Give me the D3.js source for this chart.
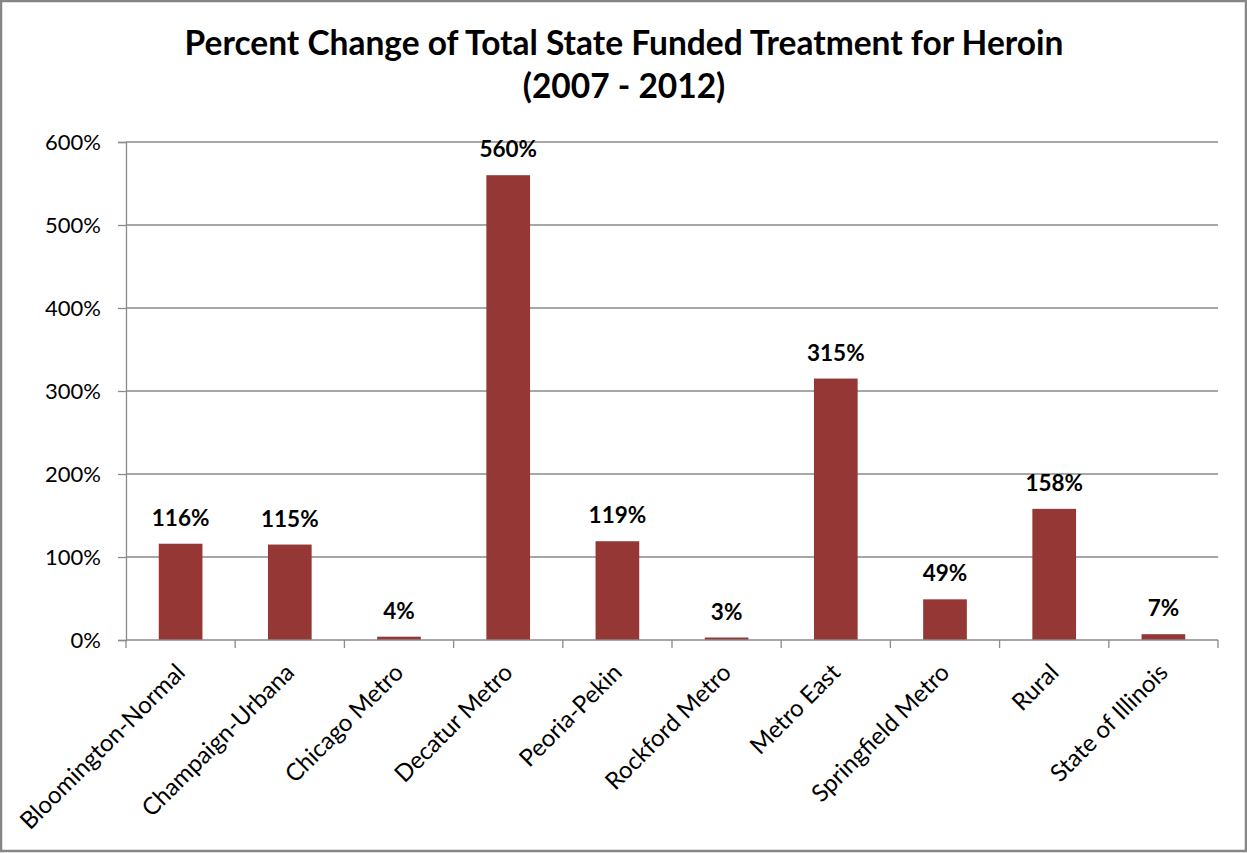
<!DOCTYPE html>
<html>
<head>
<meta charset="utf-8">
<script src="https://cdn.jsdelivr.net/npm/d3@7/dist/d3.min.js"></script>
<style>
  body { margin: 0; background: #fff; }
  svg { display: block; font-family: "Lato", "Open Sans", sans-serif; }
</style>
</head>
<body>
<div id="chart"></div>
<script>
// data
var regions = ["Bloomington-Normal", "Champaign-Urbana", "Chicago Metro", "Decatur Metro",
  "Peoria-Pekin", "Rockford Metro", "Metro East", "Springfield Metro", "Rural", "State of Illinois"];
var pctChange = [116, 115, 4, 560, 119, 3, 315, 49, 158, 7];
var yTicks = [0, 100, 200, 300, 400, 500, 600];
var titleLines = ["Percent Change of Total State Funded Treatment for Heroin", "(2007 - 2012)"];

var W = 1247, H = 853;
var margin = {top: 142, right: 29, bottom: 213, left: 126},
    width = W - margin.left - margin.right,
    height = H - margin.top - margin.bottom;

var svg = d3.select("#chart").append("svg")
    .attr("width", W)
    .attr("height", H);

// outer frame
svg.append("rect")
    .attr("x", 1).attr("y", 1)
    .attr("width", W - 2).attr("height", H - 3)
    .attr("fill", "#fff")
    .attr("stroke", "#868686")
    .attr("stroke-width", 2.5);

// two title lines, separate texts
svg.selectAll(".title")
    .data(titleLines)
  .enter().append("text")
    .attr("class", "title")
    .attr("text-anchor", "middle")
    .attr("x", 624)
    .attr("y", function(d, i) { return 55 + i * 43; })
    .style("font-size", "33.5px")
    .style("font-weight", "bold")
    .attr("fill", "#000")
    .text(function(d) { return d; });

var g = svg.append("g")
    .attr("transform", "translate(" + margin.left + "," + margin.top + ")");

var x = d3.scaleBand()
    .domain(regions)
    .range([0, width])
    .paddingInner(0.6)
    .paddingOuter(0.3);
var y = d3.scaleLinear()
    .domain([0, 600])
    .range([height, 0]);

// gridlines
g.selectAll(".grid")
    .data(yTicks.slice(1))
  .enter().append("line")
    .attr("class", "grid")
    .attr("x1", 0).attr("x2", width)
    .attr("y1", function(d) { return y(d); })
    .attr("y2", function(d) { return y(d); })
    .attr("stroke", "#8a8a8a")
    .attr("stroke-width", 1.3);

// y axis
var yAxis = g.append("g")
    .call(d3.axisLeft(y).tickValues(yTicks).tickSize(8).tickPadding(17)
      .tickFormat(function(d) { return d + "%"; }));
yAxis.select(".domain").attr("stroke", "#8a8a8a").attr("stroke-width", 1.3);
yAxis.selectAll(".tick line").attr("stroke", "#8a8a8a").attr("stroke-width", 1.3);
yAxis.selectAll(".tick text")
    .style("font-size", "22px")
    .style("font-family", "Lato, sans-serif")
    .attr("fill", "#000");

// bars
g.selectAll(".bar")
    .data(pctChange)
  .enter().append("rect")
    .attr("class", "bar")
    .attr("x", function(d, i) { return x(regions[i]); })
    .attr("width", x.bandwidth())
    .attr("y", function(d) { return y(d); })
    .attr("height", function(d) { return height - y(d); })
    .attr("fill", "#953735");

// x axis with ticks at band boundaries
var step = x.step();
var xAxis = g.append("g").attr("transform", "translate(0," + height + ")");
xAxis.append("line")
    .attr("x1", 0).attr("x2", width)
    .attr("stroke", "#8a8a8a").attr("stroke-width", 1.3);
xAxis.selectAll(".xtick")
    .data(d3.range(regions.length + 1))
  .enter().append("line")
    .attr("class", "xtick")
    .attr("x1", function(i) { return i * step; })
    .attr("x2", function(i) { return i * step; })
    .attr("y1", 0).attr("y2", 8)
    .attr("stroke", "#8a8a8a").attr("stroke-width", 1.3);

xAxis.selectAll(".xlabel")
    .data(regions)
  .enter().append("text")
    .attr("class", "xlabel")
    .attr("text-anchor", "end")
    .attr("transform", function(d) {
      return "translate(" + (x(d) + x.bandwidth() / 2 + 6) + ",34) rotate(-45)";
    })
    .style("font-size", "24px")
    .attr("fill", "#000")
    .text(function(d) { return d; });

// value labels
g.selectAll(".label")
    .data(pctChange)
  .enter().append("text")
    .attr("class", "label")
    .attr("text-anchor", "middle")
    .attr("x", function(d, i) { return x(regions[i]) + x.bandwidth() / 2; })
    .attr("y", function(d) { return y(d) - 18; })
    .style("font-size", "22.5px")
    .style("font-weight", "bold")
    .attr("fill", "#000")
    .text(function(d) { return d + "%"; });
</script>
</body>
</html>
